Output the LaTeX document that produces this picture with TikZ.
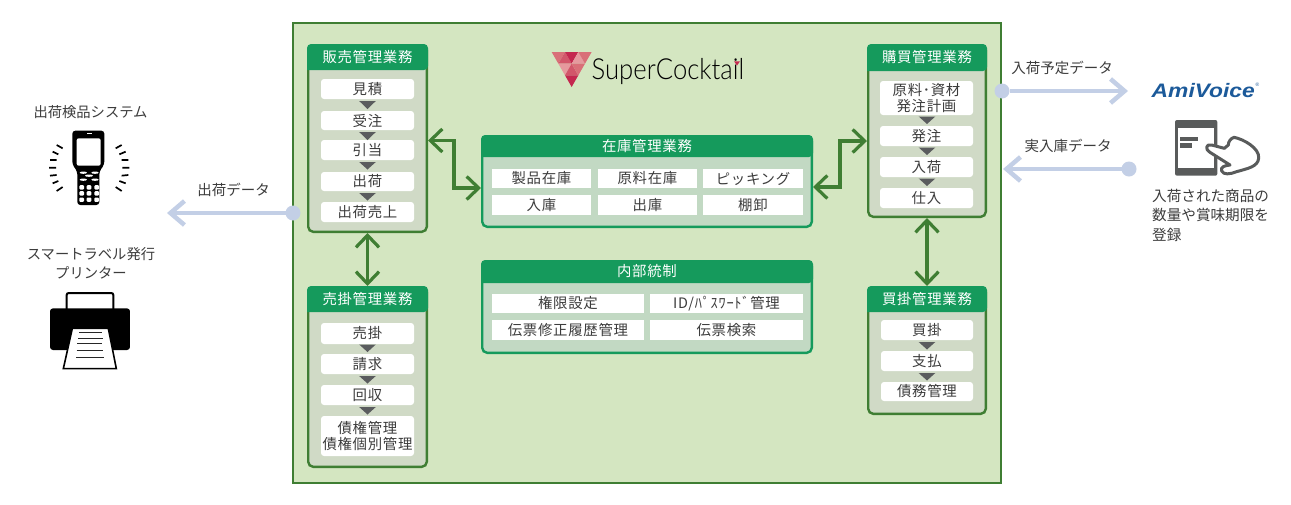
\documentclass[tikz,border=0pt]{standalone}
\usepackage{fontspec}
\setmainfont{Noto Sans CJK JP}
\newfontfamily\jpwide[LetterSpace=5]{Noto Sans CJK JP}
\newfontfamily\logofont{Lato Light}
\newfontfamily\amifont{Liberation Sans}
\usetikzlibrary{arrows.meta,calc}
\definecolor{bgG}{HTML}{D4E6C1}
\definecolor{darkG}{HTML}{3F7E33}
\definecolor{headG}{HTML}{159A5C}
\definecolor{bodyA}{HTML}{D0DAC6}
\definecolor{bodyB}{HTML}{C2D9C3}
\definecolor{triC}{HTML}{5A5C5E}
\definecolor{txtC}{HTML}{3C3C3C}
\definecolor{dataC}{HTML}{C3CFE6}
\definecolor{iconC}{HTML}{595B5B}
\definecolor{logoA}{HTML}{C4284F}
\definecolor{logoB}{HTML}{D2566A}
\definecolor{logoC}{HTML}{D96F78}
\definecolor{logoD}{HTML}{E6999E}
\definecolor{amiC}{HTML}{1C5A9A}
\tikzset{
  panelA/.style={draw=darkG,fill=bodyA,line width=2.4pt,rounded corners=5pt,inner sep=0pt},
  panelB/.style={draw=headG,fill=bodyB,line width=2.4pt,rounded corners=5pt,inner sep=0pt},
  headtxt/.style={text=white,font=\fontsize{14.4}{16}\selectfont\jpwide,inner sep=0pt},
  itemR/.style={fill=white,rounded corners=3pt,inner sep=0pt,outer sep=0pt,text=txtC,align=center,font=\fontsize{14.4}{15.5}\selectfont\jpwide},
  itemS/.style={fill=white,inner sep=0pt,outer sep=0pt,text=txtC,align=center,font=\fontsize{14.4}{15.5}\selectfont\jpwide},
  conn/.style={draw=darkG,line width=3.2pt,{Straight Barb[length=12pt,width=23pt]}-{Straight Barb[length=12pt,width=23pt]}},
  datadot/.style={circle,fill=dataC,minimum size=15pt,inner sep=0pt,outer sep=0pt},
  dataline/.style={draw=dataC,line width=4.5pt,-{Straight Barb[length=14pt,width=24pt]}},
  lab/.style={text=txtC,inner sep=0pt,font=\fontsize{14.5}{19}\selectfont,align=center},
}
\newcommand{\panelbox}[8]{% name x1 y1 x2 y2 yhead title style
  \pgfmathsetmacro{\pcx}{(#2+#4)/2}\pgfmathsetmacro{\pcy}{(#3+#5)/2}
  \pgfmathsetmacro{\pw}{#4-#2-2.4}\pgfmathsetmacro{\ph}{#5-#3-2.4}
  \node[#8,minimum width=\pw pt,minimum height=\ph pt] (#1) at (\pcx,\pcy) {};
  \fill[headG,rounded corners=4pt] (#2,#6) -- (#2,#3) -- (#4,#3) -- (#4,#6) [sharp corners] -- cycle;
  \pgfmathsetmacro{\pty}{(#3+#6)/2}
  \node[headtxt] (#1-t) at (\pcx,\pty) {#7};
}
\newcommand{\bitem}[7][itemR]{% style name x1 y1 x2 y2 text
  \pgfmathsetmacro{\pcx}{(#3+#5)/2}\pgfmathsetmacro{\pcy}{(#4+#6)/2}
  \pgfmathsetmacro{\pw}{#5-#3}\pgfmathsetmacro{\ph}{#6-#4}
  \node[#1,minimum width=\pw pt,minimum height=\ph pt] (#2) at (\pcx,\pcy) {#7};
}
\newcommand{\flowtri}[3]{\fill[triC] ({#1-8.3},#2) -- ({#1+8.3},#2) -- (#1,#3) -- cycle;}
\begin{document}
\begin{tikzpicture}[x=1pt,y=-1pt]
\useasboundingbox (0,0) rectangle (1291,504);
\fill[white] (0,0) rectangle (1291,504);
\node[draw=darkG,fill=bgG,line width=2.2pt,minimum width=708pt,minimum height=460pt,inner sep=0pt] (outer) at (647,253) {};

% logo
\begin{scope}[shift={(545,48)},xscale=1/3,yscale=1/3]
  \fill[logoC] (20,12)--(60,12)--(40,47)--cycle;
  \fill[logoB] (60,12)--(40,47)--(80,47)--cycle;
  \fill[logoA] (60,12)--(100,12)--(80,47)--cycle;
  \fill[logoD] (100,12)--(80,47)--(120,47)--cycle;
  \fill[logoC] (100,12)--(140,12)--(120,47)--cycle;
  \fill[logoD] (40,47)--(80,47)--(60,82)--cycle;
  \fill[logoB] (80,47)--(60,82)--(100,82)--cycle;
  \fill[logoC] (80,47)--(120,47)--(100,82)--cycle;
  \fill[logoA] (60,82)--(100,82)--(80,117)--cycle;
\end{scope}
\node[anchor=base west,inner sep=0pt,text=black,xscale=.885] (logotxt) at (591.5,79) {\logofont\fontsize{29}{30}\selectfont SuperCocktail};
\fill[logoA] (734,61.3)--(740,61.3)--(737,65.5)--cycle;

% sales
\panelbox{sales}{307}{44}{428}{233}{70}{販売管理業務}{panelA}
\bitem{s1}{321}{79}{414}{99}{見積}
\bitem{s2}{321}{111}{414}{130}{受注}
\bitem{s3}{321}{140}{414}{160}{引当}
\bitem{s4}{321}{172}{414}{191}{出荷}
\bitem{s5}{321}{202}{414}{222}{出荷売上}
\flowtri{367.5}{101}{109}\flowtri{367.5}{132}{140}\flowtri{367.5}{162}{169.5}\flowtri{367.5}{193}{200.5}

% receivable
\panelbox{ar}{307}{286}{428}{468}{312}{売掛管理業務}{panelA}
\bitem{r1}{321}{323}{414}{344}{売掛}
\bitem{r2}{321}{354}{414}{374}{請求}
\bitem{r3}{321}{385}{414}{405}{回収}
\bitem{r4}{321}{416}{414}{456}{債権管理\\債権個別管理}
\flowtri{367.5}{344.5}{352}\flowtri{367.5}{376}{383.5}\flowtri{367.5}{407}{414.5}

% stock
\panelbox{stock}{481}{135}{813}{228}{157}{在庫管理業務}{panelB}
\bitem[itemS]{t1}{492}{169}{591}{188}{製品在庫}
\bitem[itemS]{t2}{598}{169}{697}{188}{原料在庫}
\bitem[itemS]{t3}{703}{169}{803}{188}{ピッキング}
\bitem[itemS]{t4}{492}{195}{591}{215}{入庫}
\bitem[itemS]{t5}{598}{195}{697}{215}{出庫}
\bitem[itemS]{t6}{703}{195}{803}{215}{棚卸}

% internal
\panelbox{internal}{481}{260}{813}{354}{283}{内部統制}{panelB}
\bitem[itemS]{i1}{492}{294}{644}{313}{権限設定}
\bitem[itemS]{i2}{650}{294}{803}{313}{ID/ﾊﾟｽﾜｰﾄﾞ管理}
\bitem[itemS]{i3}{492}{320}{644}{340}{伝票修正履歴管理}
\bitem[itemS]{i4}{650}{320}{803}{340}{伝票検索}

% purchase
\panelbox{purchase}{867}{44}{987}{218}{71}{購買管理業務}{panelA}
\bitem{p1}{880}{81}{973}{115}{原料･資材\\発注計画}
\bitem{p2}{880}{126}{973}{146}{発注}
\bitem{p3}{880}{157}{973}{177}{入荷}
\bitem{p4}{880}{188}{973}{208}{仕入}
\flowtri{927}{116.5}{124}\flowtri{927}{147.5}{155}\flowtri{927}{178.5}{186}

% payable
\panelbox{ap}{867}{286}{987}{415}{312}{買掛管理業務}{panelA}
\bitem{a1}{881}{320}{973}{340}{買掛}
\bitem{a2}{881}{351}{973}{371}{支払}
\bitem{a3}{881}{382}{973}{401}{債務管理}
\flowtri{927}{342}{349.5}\flowtri{927}{373}{380.5}

% green connectors
\draw[conn] ([yshift=-2pt]sales.east) -- ++(26,0) |- ([yshift=-6.5pt]stock.west);
\draw[conn] ([yshift=-5.5pt]stock.east) -- ++(27,0) |- ([yshift=-10pt]purchase.west);
\draw[conn] (sales.south) -- (ar.north);
\draw[conn] (purchase.south) -- (ap.north);

% data connectors
\node[datadot] (dotL) at (293,213) {};
\coordinate (endL) at (167,213);
\draw[dataline] (dotL) -- (endL);
\node[datadot] (dotR1) at (1002,91) {};
\coordinate (endR1) at (1128,91);
\draw[dataline] (dotR1) -- (endR1);
\node[datadot] (dotR2) at (1129,169) {};
\coordinate (endR2) at (1003,169);
\draw[dataline] (dotR2) -- (endR2);

% labels
\node[lab] (l1) at (233.5,190) {出荷データ};
\node[lab] (l2) at (1062,68) {入荷予定データ};
\node[lab] (l3) at (1068,146) {実入庫データ};
\node[lab,font=\fontsize{14.3}{19}\selectfont] (l4) at (90.5,112) {出荷検品システム};
\node[lab,font=\fontsize{14.3}{19}\selectfont] (l5) at (91,263.5) {スマートラベル発行\\プリンター};
\node[lab,anchor=north west,align=left,font=\fontsize{14.6}{19.5}\selectfont] (l6) at (1152,189) {入荷された商品の\\数量や賞味期限を\\登録};

% AmiVoice
\node[anchor=base west,inner sep=0pt,text=amiC,xscale=1.17] (ami) at (1151.5,97.5) {\amifont\bfseries\itshape\fontsize{19.5}{20}\selectfont AmiVoice};
\node[inner sep=0pt,text=amiC] (amiR) at (1257.5,85) {\amifont\fontsize{5}{5}\selectfont ®};

% handheld terminal
\begin{scope}[shift={(40,125)},xscale=1/3,yscale=1/3]
  \fill[black,rounded corners=3pt] (97,17) -- (193,17) -- (193,118) -- (178,140) -- (178,240) -- (112,240) -- (112,140) -- (97,118) -- cycle;
  \fill[white,rounded corners=2pt] (110,40) rectangle (182,122);
  \fill[white] (140,24) rectangle (156,27);
  \foreach \kx/\ky/\kw in {130/143/11,165/143/11,147/152/12,130/164/11,165/164/11}
    \fill[white] (\kx,\ky) ellipse [x radius=\kw,y radius=3.5];
  \foreach \kx in {125,147,170} \foreach \ky in {187,205,224}
    \fill[white,rounded corners=1pt] ({\kx-7},{\ky-6.5}) rectangle ({\kx+7},{\ky+6.5});
  \begin{scope}[line width=1.7pt,black]
  \draw (50,60)--(68,70) (38,80)--(55,88) (30,105)--(50,105) (27,128)--(48,128) (30,152)--(50,150) (38,175)--(55,168) (50,198)--(68,186);
  \draw (227,70)--(245,60) (238,88)--(257,80) (245,105)--(265,105) (247,128)--(268,128) (245,152)--(265,150) (238,168)--(257,175) (227,186)--(245,198);
  \end{scope}
\end{scope}

% printer
\begin{scope}[shift={(40,285)},xscale=1/3,yscale=1/3]
  \draw[black,fill=white,line width=2pt,rounded corners=2pt] (80,78) -- (80,24) -- (220,24) -- (220,78);
  \fill[black,rounded corners=3pt] (30,70) rectangle (270,195);
  \draw[black,fill=white,line width=1.6pt,line join=miter] (97,130) -- (205,130) -- (229,251) -- (70,251) -- cycle;
  \foreach \la/\lb/\ly in {118/185/143,115/188/160,112/186/176,110/190/197,108/192/218}
    \draw[black!85,line width=1.3pt] (\la,\ly) -- (\lb,\ly);
\end{scope}

% tablet with hand
\begin{scope}[shift={(1165,115)},xscale=1/3,yscale=1/3]
  \fill[iconC,rounded corners=2pt] (30,15) rectangle (157,182);
  \fill[white] (40,38) rectangle (147,158);
  \fill[iconC] (45,66) rectangle (99,77);
  \fill[iconC] (45,85) rectangle (81,98);
  \draw[iconC,fill=white,line width=3pt,line join=round]
    (178,100) -- (190,90) .. controls (190,80) and (197,70) .. (207,67)
    .. controls (235,72) and (285,100) .. (281,130)
    .. controls (278,155) and (250,160) .. (215,170)
    .. controls (195,178) and (175,180) .. (170,168)
    .. controls (165,155) and (180,152) .. (195,150)
    -- (135,112) .. controls (120,105) and (122,85) .. (140,90) -- cycle;
\end{scope}
\end{tikzpicture}
\end{document}
